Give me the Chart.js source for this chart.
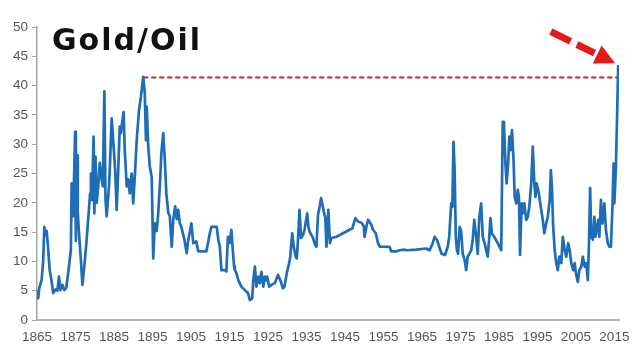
<!DOCTYPE html>
<html><head><meta charset="utf-8">
<script src="https://cdn.jsdelivr.net/npm/chart.js@4"></script>
<style>html,body{margin:0;padding:0;background:#fff}#wrap{width:640px;height:351px;position:relative}</style>
</head><body><div id="wrap"><canvas id="c"></canvas></div>
<script>
const years = [
1865.0,1865.3,1865.6,1866.2,1866.6,1866.9,1867.2,1867.5,1867.8,1868.3,1868.7,1869.2,1869.8,1870.3,1870.7,1871.1,1871.6,1872.1,1872.6,1873.1,
1873.8,1874.0,1874.4,1874.9,1875.1,1875.4,1875.6,1875.9,1876.4,1876.8,1877.3,1877.9,1878.8,1879.0,1879.3,1879.7,1879.9,1880.2,1880.5,1880.9,
1881.3,1881.8,1882.1,1882.5,1882.8,1883.1,1883.7,1884.0,1884.4,1884.9,1885.3,1885.7,1886.1,1886.5,1886.8,1887.1,1887.5,1887.8,1888.3,1888.7,
1889.1,1889.6,1890.0,1890.5,1890.9,1891.5,1892.0,1892.6,1893.0,1893.3,1893.5,1893.9,1894.3,1894.8,1895.2,1895.6,1896.1,1896.5,1897.0,1897.3,
1897.8,1898.2,1898.6,1899.1,1899.5,1900.0,1900.4,1900.9,1901.3,1901.7,1902.1,1902.5,1903.3,1903.9,1904.3,1904.7,1905.1,1905.6,1906.4,1906.9,
1909.0,1909.9,1910.3,1911.2,1911.7,1912.1,1912.5,1912.9,1913.8,1914.2,1914.6,1915.0,1915.5,1915.8,1916.2,1916.4,1916.8,1917.3,1918.1,1919.0,
1919.8,1920.3,1920.9,1921.2,1921.6,1922.0,1922.5,1922.9,1923.3,1923.8,1924.2,1924.5,1924.8,1925.3,1925.9,1926.8,1927.6,1928.2,1928.9,1929.3,
1929.9,1930.5,1930.8,1931.3,1931.7,1932.2,1932.5,1932.8,1933.2,1933.6,1934.1,1934.5,1935.0,1935.2,1935.5,1935.8,1936.3,1936.7,1937.1,1937.6,
1938.0,1938.5,1938.8,1939.2,1939.5,1939.9,1940.2,1940.5,1940.7,1941.1,1941.5,1942.8,1944.5,1946.2,1946.9,1947.3,1947.7,1948.4,1949.3,1949.9,
1950.1,1950.6,1951.0,1951.9,1952.3,1953.0,1953.6,1954.1,1956.6,1957.0,1958.3,1959.2,1960.5,1961.0,1963.5,1966.1,1967.0,1967.8,1968.3,1968.9,
1969.5,1970.1,1971.0,1971.7,1972.1,1972.6,1972.9,1973.2,1973.5,1973.8,1974.1,1974.4,1974.8,1975.2,1975.6,1976.1,1976.5,1976.9,1977.8,1978.2,
1978.6,1979.1,1979.5,1979.9,1980.4,1980.8,1981.3,1981.7,1982.1,1982.5,1982.8,1983.2,1983.8,1984.7,1985.2,1985.6,1986.0,1986.3,1986.7,1987.0,
1987.4,1987.7,1988.0,1988.4,1988.8,1989.1,1989.5,1989.9,1990.2,1990.5,1990.9,1991.2,1991.6,1992.1,1992.5,1992.9,1993.4,1993.8,1994.2,1994.5,
1994.8,1995.2,1995.5,1996.0,1996.4,1996.8,1997.3,1997.7,1998.2,1998.5,1998.8,1999.1,1999.5,1999.9,2000.3,2000.7,2001.2,2001.6,2002.1,2002.5,
2003.0,2003.4,2003.8,2004.3,2004.7,2005.0,2005.5,2005.9,2006.4,2006.8,2007.3,2007.7,2008.1,2008.4,2008.7,2009.0,2009.4,2009.8,2010.1,2010.4,
2010.8,2011.1,2011.5,2011.9,2012.4,2012.8,2013.3,2013.7,2014.1,2014.5,2014.8,2015.0,2015.4,2015.7,2016.0
];
const ratio = [
5.1,3.7,5.5,6.8,10,15.9,14.5,15.2,13,8.5,7,4.6,5.2,5.0,7.4,5.1,6.0,5.1,5.5,8,
11.9,23.3,17.7,32.1,13.5,28.1,18.3,15,10.2,6.0,9.2,13.7,21.6,25,20.5,31.3,18.2,27.9,20,22.7,
26.8,24,22.8,39,20.5,17.7,22.7,27.3,34.4,29.6,25.6,18.8,25.6,33,31.9,33.6,35.5,29,22.8,24,
21.6,25,19.9,25.6,30.7,35.8,38.1,41.5,38.7,30.7,36.4,29.6,26.2,24.4,10.5,16.5,15.2,18.3,23.9,28.4,
31.9,27.3,21.6,18.3,17.7,12.5,17.2,19.4,17.2,18.8,16.5,15.9,13.7,11.4,13.7,15,16.5,13.1,13.4,11.7,
11.7,14.8,15.9,15.9,15.9,13.7,12.5,8.5,8.5,8.3,14.2,13.1,15.4,12.5,9.1,8.5,8.0,6.8,5.7,5.1,
4.6,3.4,3.7,6.8,9.1,5.7,7.4,6.3,8.2,5.7,7.4,6.8,7.4,5.7,6.0,6.3,7.7,6.8,5.4,5.7,
8.0,9.7,10.8,14.8,12.5,10.8,10.5,13.7,18.8,14.0,14.5,15.4,17.4,18.2,16.0,15.1,14.5,14.0,13.1,12.5,
17.9,19.6,20.8,19.6,18.5,17.4,12.5,16.8,18.8,13.1,14.0,14.2,14.8,15.4,15.6,16.5,17.4,16.8,16.6,16.0,
14.2,16.0,17.1,16.2,15.4,14.8,13.1,12.5,12.5,11.7,11.7,11.9,12.0,11.9,12.0,12.2,11.9,13.1,14.2,13.7,
12.5,11.3,11.1,12.5,14.2,19.9,19.3,30.4,25.6,14.2,11.9,11.3,15.9,15.1,11.3,10.2,8.5,10.8,11.9,13.7,
17.1,14.2,11.3,17.6,19.9,14.2,13.1,11.9,10.8,14.2,17.4,14.7,14.2,13.1,12.5,11.9,33.8,33.8,26.7,23.3,
26.7,31.3,29.0,32.4,27.3,21.0,19.9,22.2,21.0,11.1,19.9,18.2,19.9,17.1,17.6,19.3,23.3,29.6,23.3,21.0,
23.3,22.2,21.0,18.8,17.1,14.8,16.5,17.6,20.5,25.6,22.2,15.9,11.9,9.7,8.5,10.8,9.7,14.2,11.9,10.8,
13.1,11.9,9.7,8.5,9.7,8.0,6.5,8.5,9.1,10.8,9.1,9.7,6.8,13.1,22.5,14.2,13.7,17.6,14.2,15.4,
17.1,14.2,20.5,16.5,19.9,15.4,13.1,12.5,12.5,19.3,26.7,19.9,26.2,34.7,43.5
];
const tickYears = [1865,1875,1885,1895,1905,1915,1925,1935,1945,1955,1965,1975,1985,1995,2005,2015];
const yTicks = [0,5,10,15,20,25,30,35,40,45,50];
const xMin = 1865, xMax = 2016.2;
const refYears = [1892.6, 2016.2];
const refLevel = 41.4;
const arrowFrom = [1998.5, 49.2];
const arrowTo = [2015.2, 43.8];
const titleText = 'Gold/Oil';

const lineData = years.map((y,i)=>({x:y, y:ratio[i]}));
const refData = refYears.map(y=>({x:y, y:refLevel}));

const overlay = {
  id:'overlay',
  afterDatasetsDraw(chart){
    const ctx = chart.ctx, xs = chart.scales.x, ys = chart.scales.y, ca = chart.chartArea;
    ctx.save();
    ctx.font = 'bold 30px "DejaVu Sans"';
    try { ctx.letterSpacing = '2px'; } catch(e){}
    ctx.fillStyle = '#111';
    ctx.textBaseline = 'alphabetic';
    ctx.fillText(titleText, ca.left + 15, ca.top + 23);
    try { ctx.letterSpacing = '0px'; } catch(e){}
    const x1 = xs.getPixelForValue(arrowFrom[0]), y1 = ys.getPixelForValue(arrowFrom[1]);
    const x2 = xs.getPixelForValue(arrowTo[0]), y2 = ys.getPixelForValue(arrowTo[1]);
    const ang = Math.atan2(y2-y1, x2-x1), c = Math.cos(ang), s = Math.sin(ang);
    const headLen = 20, headW = 20;
    const bx = x2 - headLen*c, by = y2 - headLen*s;
    ctx.strokeStyle = '#e3191c'; ctx.fillStyle = '#e3191c';
    ctx.lineWidth = 7; ctx.setLineDash([22,7]); ctx.lineCap = 'butt';
    ctx.beginPath(); ctx.moveTo(x1,y1); ctx.lineTo(bx - 3*c, by - 3*s); ctx.stroke();
    ctx.setLineDash([]);
    ctx.beginPath();
    ctx.moveTo(x2,y2);
    ctx.lineTo(bx - headW/2*s, by + headW/2*c);
    ctx.lineTo(bx + headW/2*s, by - headW/2*c);
    ctx.closePath(); ctx.fill();
    ctx.restore();
  }
};

new Chart(document.getElementById('c'), {
  type:'line',
  data:{datasets:[
    {data:lineData, borderColor:'#1f6db5', borderWidth:2.7, pointRadius:0, tension:0, fill:false, borderJoinStyle:'round'},
    {data:refData, borderColor:'#c8262b', borderWidth:2, borderDash:[5,3], pointRadius:0, fill:false}
  ]},
  options:{
    responsive:true, maintainAspectRatio:false, animation:false,
    layout:{padding:{top:27, right:21, left:0, bottom:0}},
    plugins:{legend:{display:false}, tooltip:{enabled:false}},
    scales:{
      x:{type:'linear', min:xMin, max:xMax,
        afterBuildTicks:sc=>{sc.ticks = tickYears.map(v=>({value:v}));},
        afterFit:sc=>{sc.height = 31;},
        grid:{display:true, drawOnChartArea:false, drawTicks:false},
        border:{display:true, color:'#b3b3b3', width:2},
        ticks:{autoSkip:false, maxRotation:0, padding:9, color:'#555', font:{family:'"Liberation Sans", Arial', size:13.5}, callback:v=>String(v)}
      },
      y:{min:0, max:50,
        afterBuildTicks:sc=>{sc.ticks = yTicks.map(v=>({value:v}));},
        afterFit:sc=>{sc.width = 37;},
        grid:{display:true, drawOnChartArea:false, drawTicks:true, tickLength:5, color:'#a6a6a6'},
        border:{display:true, color:'#a6a6a6', width:1.5},
        ticks:{padding:4, color:'#555', font:{family:'"Liberation Sans", Arial', size:13.5}, callback:v=>String(v)}
      }
    }
  },
  plugins:[overlay]
});
</script>
</body></html>
